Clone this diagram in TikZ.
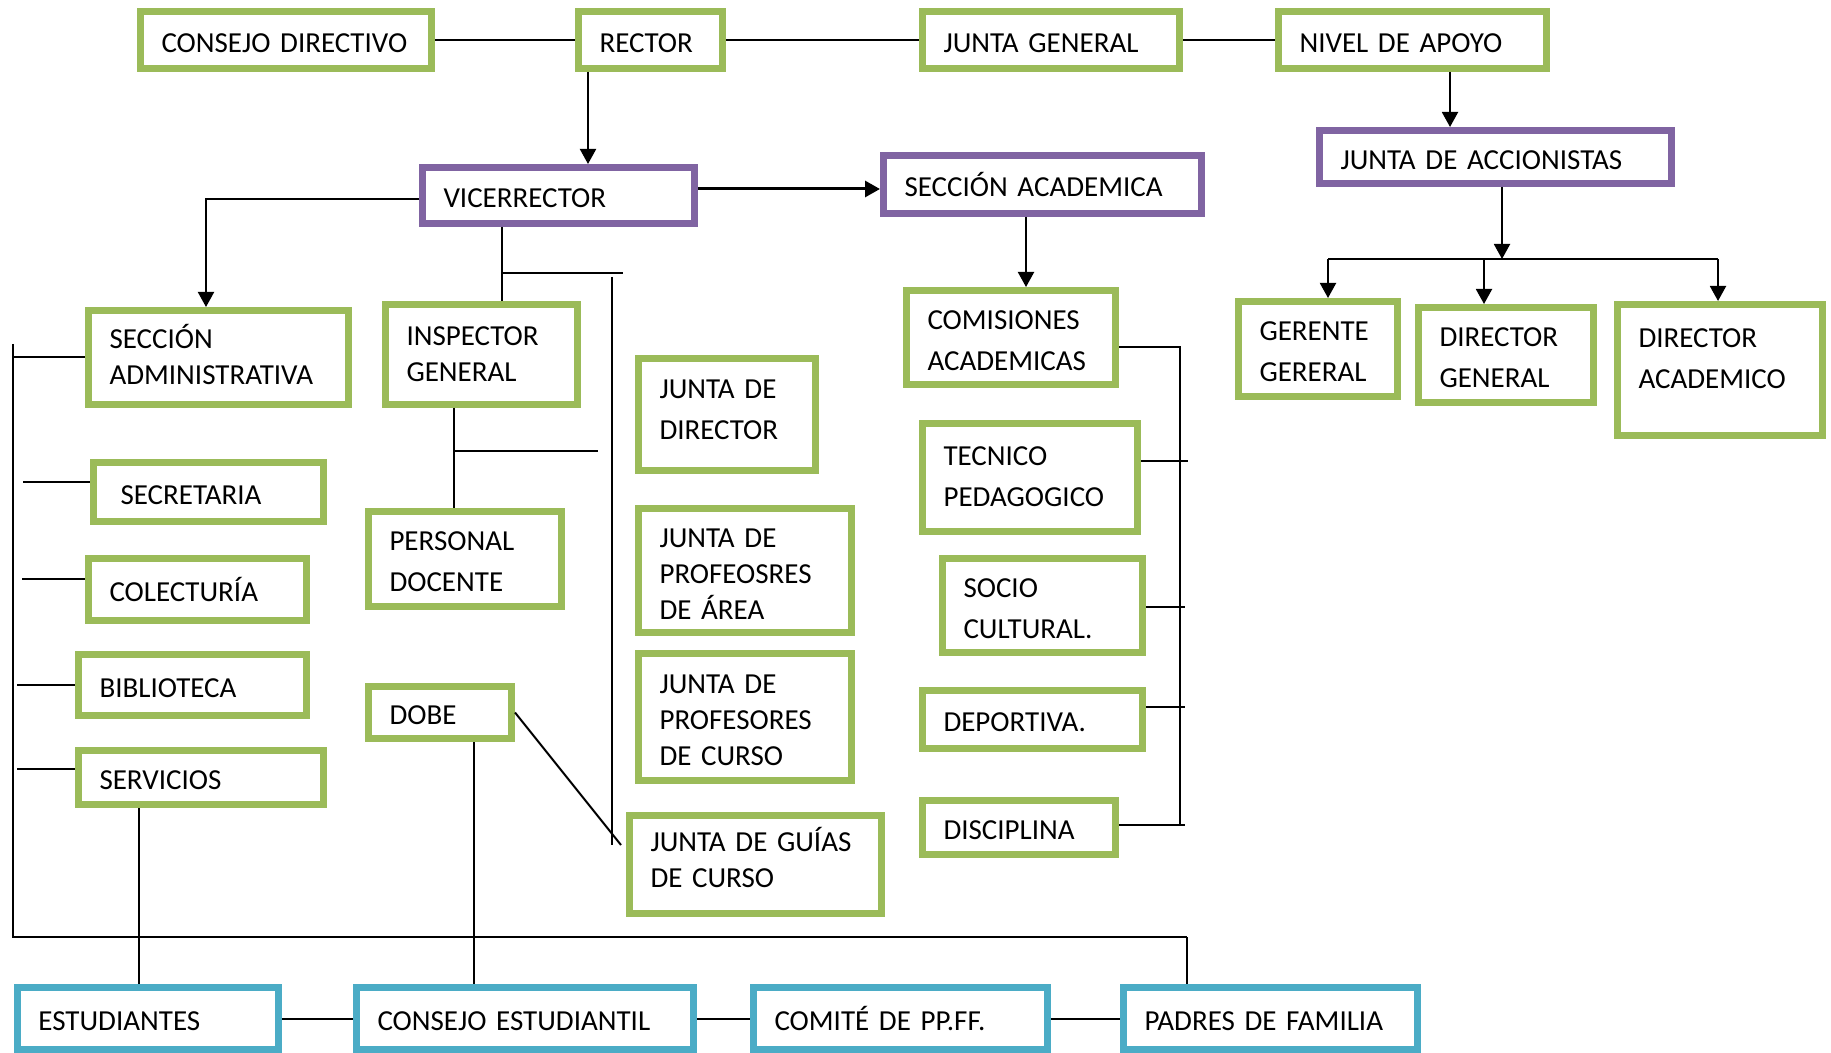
\documentclass[tikz,border=0pt]{standalone}
\usepackage{fontspec}
\setmainfont{Carlito}
\usepackage{tikz}
\usetikzlibrary{arrows.meta}
\definecolor{olivo}{HTML}{9BBB59}
\definecolor{lila}{HTML}{8064A2}
\definecolor{celeste}{HTML}{4BACC6}

\begin{document}
\begin{tikzpicture}[x=0.5pt, y=-0.5pt, >={Triangle[length=7.5pt,width=8pt]},
   box/.style={draw, line width=3.5pt, align=left, inner xsep=10.5pt, inner ysep=0pt,
      text height=12.5pt, font=\fontsize{14.5}{20.5}\selectfont},
   verde/.style={box, draw=olivo},
   morado/.style={box, draw=lila},
   azul/.style={box, draw=celeste},
   tight/.style={font=\fontsize{14.5}{18}\selectfont},
   linea/.style={line width=1pt}]
   \useasboundingbox (0,0) rectangle (1831,1053);

   \node[verde, minimum width=145.5pt, text width=124.5pt, minimum height=28.5pt] (cd) at (286,40) {CONSEJO DIRECTIVO};
   \node[verde, minimum width=72pt, text width=51pt, minimum height=28.5pt] (rec) at (650.5,40) {RECTOR};
   \node[verde, minimum width=128.5pt, text width=107.5pt, minimum height=28.5pt] (jg) at (1051,40) {JUNTA GENERAL};
   \node[verde, minimum width=134pt, text width=113pt, minimum height=28.5pt] (na) at (1412.5,40) {NIVEL DE APOYO};
   \node[morado, minimum width=136pt, text width=115pt, minimum height=28pt] (vic) at (558.5,195.5) {VICERRECTOR};
   \node[morado, minimum width=159pt, text width=138pt, minimum height=29pt] (sac) at (1042.5,184.5) {SECCIÓN ACADEMICA};
   \node[morado, minimum width=176pt, text width=155pt, minimum height=26.5pt] (jda) at (1495.5,157) {JUNTA DE ACCIONISTAS};
   \node[verde, tight, minimum width=130pt, text width=109pt, minimum height=47pt, text depth=21.5pt] (sadm) at (218.5,357.5) {SECCIÓN\\ADMINISTRATIVA};
   \node[verde, tight, minimum width=96pt, text width=75pt, minimum height=50pt, text depth=21.5pt] (insp) at (481.5,354.5) {INSPECTOR\\GENERAL};
   \node[verde, minimum width=88.5pt, text width=67.5pt, minimum height=56pt, text depth=28.5pt] (jdir) at (727,414.5) {JUNTA DE\\DIRECTOR};
   \node[verde, minimum width=104.5pt, text width=83.5pt, minimum height=47pt] (com) at (1011,337.5) {COMISIONES\\ACADEMICAS};
   \node[verde, minimum width=79.5pt, text width=58.5pt, minimum height=47.5pt] (ger) at (1318,349) {GERENTE\\GERERAL};
   \node[verde, minimum width=87.5pt, text width=66.5pt, minimum height=47.5pt] (dgen) at (1506,355) {DIRECTOR\\GENERAL};
   \node[verde, minimum width=102.5pt, text width=81.5pt, minimum height=65.5pt, text depth=34.5pt] (dacad) at (1720,370) {DIRECTOR\\ACADEMICO};
   \node[verde, minimum width=115pt, text width=94pt, minimum height=29.5pt] (sec) at (208.5,492) {\hspace{3pt}SECRETARIA};
   \node[verde, minimum width=109pt, text width=88pt, minimum height=31pt] (col) at (197.5,589.5) {COLECTURÍA};
   \node[verde, minimum width=114pt, text width=93pt, minimum height=30.5pt] (bib) at (192.5,685) {BIBLIOTECA};
   \node[verde, minimum width=122.5pt, text width=101.5pt, minimum height=27pt] (serv) at (201,777.5) {SERVICIOS};
   \node[verde, minimum width=96.5pt, text width=75.5pt, minimum height=47.5pt] (pers) at (465,559) {PERSONAL\\DOCENTE};
   \node[verde, minimum width=71.5pt, text width=50.5pt, minimum height=26pt] (dobe) at (440,712.5) {DOBE};
   \node[verde, tight, minimum width=106.5pt, text width=85.5pt, minimum height=62pt] (jarea) at (745,570.5) {JUNTA DE\\PROFEOSRES\\DE ÁREA};
   \node[verde, tight, minimum width=106.5pt, text width=85.5pt, minimum height=63.5pt] (jcurso) at (745,717) {JUNTA DE\\PROFESORES\\DE CURSO};
   \node[verde, tight, minimum width=126pt, text width=105pt, minimum height=49pt, text depth=25.5pt] (jguia) at (755.5,864.5) {JUNTA DE GUÍAS\\DE CURSO};
   \node[verde, minimum width=107.5pt, text width=86.5pt, minimum height=54pt, text depth=24pt] (tec) at (1030,477.5) {TECNICO\\PEDAGOGICO};
   \node[verde, minimum width=100pt, text width=79pt, minimum height=47pt] (soc) at (1042.5,605.5) {SOCIO\\CULTURAL.};
   \node[verde, minimum width=110pt, text width=89pt, minimum height=29pt] (dep) at (1032.5,719.5) {DEPORTIVA.};
   \node[verde, minimum width=96.5pt, text width=75.5pt, minimum height=27pt] (disc) at (1019,827.5) {DISCIPLINA};
   \node[azul, minimum width=130.5pt, text width=109.5pt, minimum height=31pt] (est) at (148,1018.5) {ESTUDIANTES};
   \node[azul, minimum width=168.5pt, text width=147.5pt, minimum height=31pt] (ces) at (525,1018.5) {CONSEJO ESTUDIANTIL};
   \node[azul, minimum width=147pt, text width=126pt, minimum height=31pt] (cpf) at (900.5,1018.5) {COMITÉ DE PP.FF.};
   \node[azul, minimum width=147pt, text width=126pt, minimum height=31pt] (pf) at (1270.5,1018.5) {PADRES DE FAMILIA};

   \coordinate (a1) at (588,0);
   \coordinate (b1) at (0,189);
   \coordinate (c1) at (206,199);
   \coordinate (d1) at (502,273);
   \coordinate (d2) at (623,273);
   \coordinate (d3) at (612,277);
   \coordinate (d4) at (612,845);
   \coordinate (e1) at (454,451);
   \coordinate (e2) at (598,451);
   \coordinate (f1) at (474,0);
   \coordinate (g1) at (621,845);
   \coordinate (h1) at (13,344);
   \coordinate (h2) at (13,937);
   \coordinate (h3) at (1187,937);
   \coordinate (i1) at (23,482);
   \coordinate (i2) at (22,579);
   \coordinate (i3) at (17,685);
   \coordinate (i4) at (17,769);
   \coordinate (j1) at (139,0);
   \coordinate (k1) at (1450,0);
   \coordinate (l1) at (1502,259);
   \coordinate (l2) at (1328,259);
   \coordinate (l3) at (1718,259);
   \coordinate (l4) at (1484,259);
   \coordinate (m1) at (1026,0);
   \coordinate (n1) at (1180,347);
   \coordinate (n2) at (1180,825);
   \coordinate (o1) at (1188,461);
   \coordinate (o2) at (1185,607);
   \coordinate (o3) at (1185,707);
   \coordinate (o4) at (1185,825);

   \draw[linea] (cd) -- (rec);
   \draw[linea] (rec) -- (jg);
   \draw[linea] (jg) -- (na);
   \draw[linea,->] (rec.south -| a1) -- (vic.north -| a1);
   \draw[line width=1.5pt,->] (vic.east |- b1) -- (sac.west |- b1);
   \draw[linea,->] (vic.west |- c1) -| (sadm.north -| c1);
   \draw[linea] (vic.south -| d1) -- (insp.north -| d1);
   \draw[linea] (d1) -- (d2);
   \draw[linea] (d3) -- (d4);
   \draw[linea] (insp.south -| e1) -- (pers.north -| e1);
   \draw[linea] (e1) -- (e2);
   \draw[linea] (dobe.south -| f1) -- (ces.north -| f1);
   \draw[linea] (dobe.east) -- (g1);
   \draw[line width=1.25pt] (h1) -- (h2) -- (h3);
   \draw[linea] (h3) -- (pf.north -| h3);
   \draw[linea] (sadm.west -| h1) -- (sadm.west);
   \draw[linea] (i1) -- (sec.west |- i1);
   \draw[linea] (i2) -- (col.west |- i2);
   \draw[linea] (i3) -- (bib.west |- i3);
   \draw[linea] (i4) -- (serv.west |- i4);
   \draw[linea] (serv.south -| j1) -- (est.north -| j1);
   \draw[linea] (est) -- (ces);
   \draw[linea] (ces) -- (cpf);
   \draw[linea] (cpf) -- (pf);
   \draw[linea,->] (na.south -| k1) -- (jda.north -| k1);
   \draw[linea,->] (jda.south -| l1) -- (l1);
   \draw[linea] (l2) -- (l3);
   \draw[linea,->] (l2) -- (ger.north -| l2);
   \draw[linea,->] (l4) -- (dgen.north -| l4);
   \draw[linea,->] (l3) -- (dacad.north -| l3);
   \draw[linea,->] (sac.south -| m1) -- (com.north -| m1);
   \draw[linea] (com.east |- n1) -- (n1) -- (n2);
   \draw[linea] (tec.east |- o1) -- (o1);
   \draw[linea] (soc.east |- o2) -- (o2);
   \draw[linea] (dep.east |- o3) -- (o3);
   \draw[linea] (disc.east |- o4) -- (o4);
\end{tikzpicture}
\end{document}
